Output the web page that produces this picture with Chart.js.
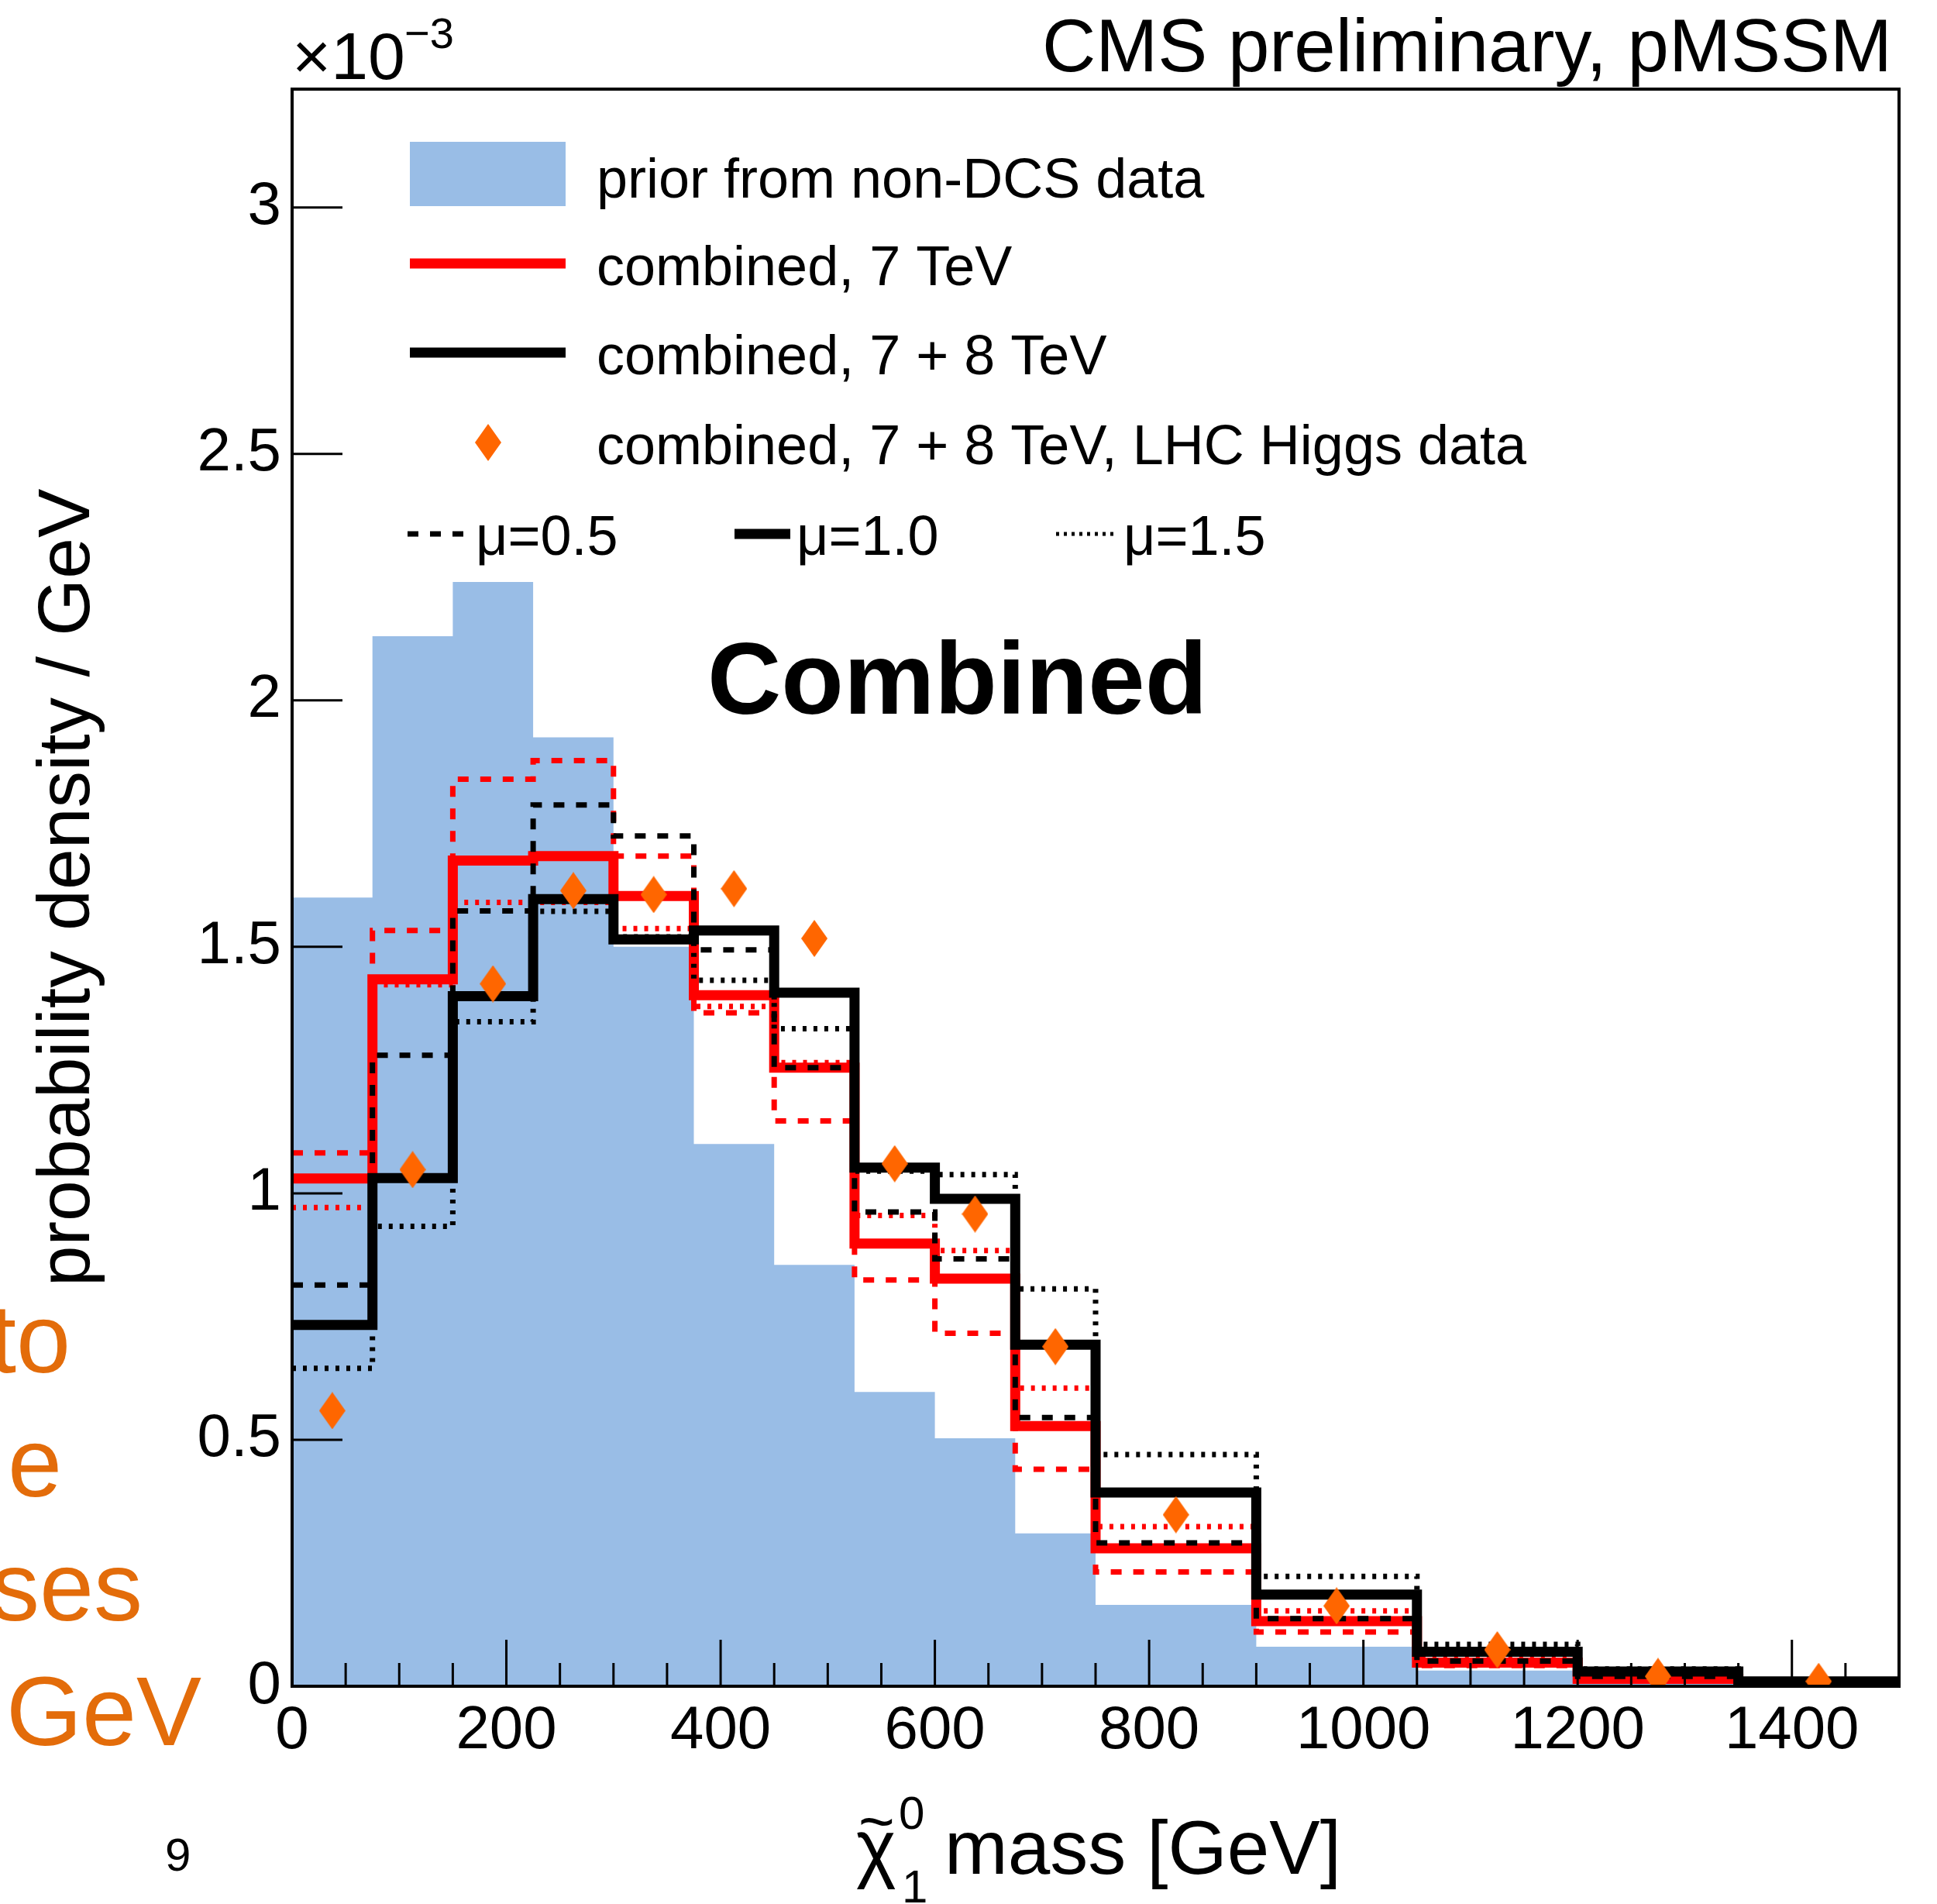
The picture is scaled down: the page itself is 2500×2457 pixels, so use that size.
<!DOCTYPE html>
<html>
<head>
<meta charset="utf-8">
<script src="https://cdn.jsdelivr.net/npm/chart.js"></script>
<style>
  html, body { margin: 0; padding: 0; background: #fff; }
  canvas { display: block; }
</style>
</head>
<body>
<canvas id="chart" width="2500" height="2457"></canvas>
<script>
// neutralino mass bins [GeV]
const binEdges = [0, 75, 150, 225, 300, 375, 450, 525, 600, 675, 750, 900, 1050, 1200, 1350, 1500];
const binCenters = [37.5, 112.5, 187.5, 262.5, 337.5, 412.5, 487.5, 562.5, 637.5, 712.5, 825, 975, 1125, 1275, 1425];

// probability density / GeV, in units of 1e-3
const priorNonDCS = [1.60, 2.13, 2.24, 1.925, 1.50, 1.10, 0.855, 0.597, 0.503, 0.310, 0.165, 0.080, 0.032, 0.010, 0.003];

const comb7Mu10 = [1.030, 1.434, 1.675, 1.684, 1.603, 1.402, 1.255, 0.898, 0.827, 0.528, 0.280, 0.132, 0.048, 0.015, 0.003];
const comb7Mu05 = [1.082, 1.533, 1.840, 1.878, 1.684, 1.366, 1.147, 0.824, 0.716, 0.440, 0.232, 0.110, 0.042, 0.012, 0.003];
const comb7Mu15 = [0.971, 1.423, 1.590, 1.590, 1.537, 1.379, 1.265, 0.955, 0.884, 0.605, 0.324, 0.153, 0.055, 0.020, 0.004];

const comb78Mu10 = [0.733, 1.031, 1.400, 1.597, 1.515, 1.533, 1.407, 1.052, 0.989, 0.693, 0.393, 0.186, 0.070, 0.030, 0.010];
const comb78Mu05 = [0.814, 1.280, 1.573, 1.788, 1.725, 1.494, 1.255, 0.962, 0.867, 0.545, 0.291, 0.137, 0.051, 0.020, 0.005];
const comb78Mu15 = [0.645, 0.933, 1.348, 1.572, 1.520, 1.432, 1.334, 1.045, 1.038, 0.806, 0.470, 0.223, 0.085, 0.035, 0.012];

const comb78Higgs = [0.559, 1.048, 1.425, 1.614, 1.606, 1.618, 1.517, 1.060, 0.958, 0.689, 0.348, 0.163, 0.074, 0.020, 0.010];

// axis ticks
const xMajorTicks = [0, 200, 400, 600, 800, 1000, 1200, 1400];
const xMinorStep = 50;
const yTicks = [0, 0.5, 1, 1.5, 2, 2.5, 3];

const FONT = '"Liberation Sans", Arial, Helvetica, sans-serif';
const BLUE = '#99bde6';
const RED = '#ff0000';
const ORANGE = '#ff6600';

// histogram -> points at bin edges, drawn with stepped lines
function toSteps(values) {
  const pts = values.map((v, i) => ({ x: binEdges[i], y: v }));
  pts.push({ x: binEdges[binEdges.length - 1], y: values[values.length - 1] });
  return pts;
}

// elongated orange diamond marker
const diamond = document.createElement('canvas');
diamond.width = 34;
diamond.height = 48;
(function () {
  const d = diamond.getContext('2d');
  d.fillStyle = ORANGE;
  d.beginPath();
  d.moveTo(17, 0); d.lineTo(34, 24); d.lineTo(17, 48); d.lineTo(0, 24);
  d.closePath();
  d.fill();
})();

function stepLine(label, values, color, width, dash, order) {
  return {
    label: label,
    data: toSteps(values),
    borderColor: color,
    borderWidth: width,
    borderDash: dash,
    borderCapStyle: 'butt',
    borderJoinStyle: 'miter',
    stepped: 'before',
    pointRadius: 0,
    fill: false,
    order: order
  };
}

const DASH = [14, 15];
const DOT = [5, 9];

const datasets = [
  {
    label: 'combined, 7 + 8 TeV, LHC Higgs data',
    data: comb78Higgs.map((v, i) => ({ x: binCenters[i], y: v })),
    showLine: false,
    pointStyle: diamond,
    pointRadius: 20,
    backgroundColor: ORANGE,
    borderColor: ORANGE,
    order: 0
  },
  stepLine('combined, 7 + 8 TeV', comb78Mu10, '#000', 13, [], 1),
  stepLine('combined, 7 + 8 TeV, mu=0.5', comb78Mu05, '#000', 7, DASH, 2),
  stepLine('combined, 7 + 8 TeV, mu=1.5', comb78Mu15, '#000', 7, DOT, 3),
  stepLine('combined, 7 TeV', comb7Mu10, RED, 13, [], 4),
  stepLine('combined, 7 TeV, mu=0.5', comb7Mu05, RED, 7, DASH, 5),
  stepLine('combined, 7 TeV, mu=1.5', comb7Mu15, RED, 7, DOT, 6),
  {
    label: 'prior from non-DCS data',
    data: toSteps(priorNonDCS),
    stepped: 'before',
    borderWidth: 0,
    borderColor: BLUE,
    backgroundColor: BLUE,
    pointRadius: 0,
    fill: 'origin',
    order: 7
  }
];

function text(ctx, str, x, y, size, opts) {
  opts = opts || {};
  ctx.font = (opts.weight || '') + ' ' + size + 'px ' + FONT;
  ctx.fillStyle = opts.color || '#000';
  ctx.textAlign = opts.align || 'left';
  ctx.textBaseline = 'alphabetic';
  ctx.fillText(str, x, y);
}

// ROOT-like frame, inward ticks, titles and legend
const rootStyle = {
  id: 'rootStyle',
  afterDatasetsDraw(chart) {
    const { ctx, chartArea: a, scales: { x, y } } = chart;
    ctx.save();
    ctx.strokeStyle = '#000';
    ctx.lineWidth = 3;
    ctx.beginPath();
    yTicks.forEach(v => {
      const py = y.getPixelForValue(v);
      ctx.moveTo(a.left, py);
      ctx.lineTo(a.left + 65, py);
    });
    for (let v = 0; v <= 1500; v += xMinorStep) {
      const px = x.getPixelForValue(v);
      const len = xMajorTicks.includes(v) ? 60 : 30;
      ctx.moveTo(px, a.bottom);
      ctx.lineTo(px, a.bottom - len);
    }
    ctx.stroke();
    ctx.lineWidth = 4;
    ctx.strokeRect(a.left, a.top, a.right - a.left, a.bottom - a.top);
    ctx.restore();
  },
  afterDraw(chart) {
    const ctx = chart.ctx;
    const a = chart.chartArea;
    ctx.save();

    // header
    text(ctx, 'CMS preliminary, pMSSM', 2442, 92, 96, { align: 'right' });
    text(ctx, '\u00d710', a.left, 102, 86);
  text(ctx, '\u22123', 522, 62, 56);

    // y title
    ctx.save();
    ctx.translate(115, (a.top + a.bottom) / 2);
    ctx.rotate(-Math.PI / 2);
    text(ctx, 'probability density / GeV', 0, 0, 95, { align: 'center' });
    ctx.restore();

    // x title
    text(ctx, '\u03c7', 1105, 2418, 98);
    text(ctx, '~', 1108, 2378, 80);
    text(ctx, '0', 1160, 2360, 60);
    text(ctx, '1', 1164, 2455, 60);
    text(ctx, 'mass [GeV]', 1219, 2418, 98);

    // label
    text(ctx, 'Combined', 913, 921, 132, { weight: 'bold' });

    // leftovers of the slide
    text(ctx, 'to', 91, 1771, 126, { align: 'right', color: '#e36c0a' });
    text(ctx, 'e', 80, 1931, 126, { align: 'right', color: '#e36c0a' });
    text(ctx, 'ses', 184, 2091, 126, { align: 'right', color: '#e36c0a' });
    text(ctx, 'GeV', 8, 2252, 126, { color: '#e36c0a' });
    text(ctx, '9', 213, 2414, 60);

    // legend
    const ds = chart.data.datasets;
    const lx0 = 529, lx1 = 730, tx = 770;
    ctx.fillStyle = BLUE;
    ctx.fillRect(lx0, 183, lx1 - lx0, 83);
    text(ctx, ds[7].label, tx, 255, 72);

    ctx.lineCap = 'butt';
    ctx.strokeStyle = RED;
    ctx.lineWidth = 13;
    ctx.beginPath(); ctx.moveTo(lx0, 340); ctx.lineTo(lx1, 340); ctx.stroke();
    text(ctx, ds[4].label, tx, 368, 72);

    ctx.strokeStyle = '#000';
    ctx.beginPath(); ctx.moveTo(lx0, 455); ctx.lineTo(lx1, 455); ctx.stroke();
    text(ctx, ds[1].label, tx, 483, 72);

    ctx.drawImage(diamond, 630 - 17, 571 - 24);
    text(ctx, ds[0].label, tx, 599, 72);

    // mu row
    const muY = 689;
    ctx.strokeStyle = '#000';
    ctx.lineWidth = 7;
    ctx.setLineDash(DASH);
    ctx.beginPath(); ctx.moveTo(526, muY); ctx.lineTo(606, muY); ctx.stroke();
    ctx.setLineDash([]);
    ctx.lineWidth = 13;
    ctx.beginPath(); ctx.moveTo(948, muY); ctx.lineTo(1020, muY); ctx.stroke();
    ctx.lineWidth = 5;
    ctx.setLineDash([4, 6]);
    ctx.beginPath(); ctx.moveTo(1363, muY); ctx.lineTo(1443, muY); ctx.stroke();
    ctx.setLineDash([]);
    text(ctx, '\u03bc=0.5', 614, 716, 72);
    text(ctx, '\u03bc=1.0', 1028, 716, 72);
    text(ctx, '\u03bc=1.5', 1450, 716, 72);

    ctx.restore();
  }
};

new Chart(document.getElementById('chart'), {
  type: 'line',
  data: { datasets: datasets },
  options: {
    responsive: false,
    animation: false,
    devicePixelRatio: 1,
    layout: { padding: { left: 0, top: 115, right: 49, bottom: 0 } },
    plugins: {
      legend: { display: false },
      tooltip: { enabled: false }
    },
    scales: {
      x: {
        type: 'linear',
        min: 0,
        max: 1500,
        afterFit: s => { s.height = 281; },
        afterBuildTicks: s => { s.ticks = xMajorTicks.map(v => ({ value: v })); },
        grid: { display: false, drawTicks: false },
        border: { display: false },
        ticks: {
          autoSkip: false,
          maxRotation: 0,
          padding: 12,
          color: '#000',
          font: { family: FONT, size: 78 },
          callback: v => String(v)
        }
      },
      y: {
        type: 'linear',
        min: 0,
        max: 3.24,
        afterFit: s => { s.width = 377; },
        afterBuildTicks: s => { s.ticks = yTicks.map(v => ({ value: v })); },
        grid: { display: false, drawTicks: false },
        border: { display: false },
        ticks: {
          padding: 14,
          color: '#000',
          font: { family: FONT, size: 78 },
          callback: v => String(v)
        }
      }
    }
  },
  plugins: [rootStyle]
});
</script>
</body>
</html>
